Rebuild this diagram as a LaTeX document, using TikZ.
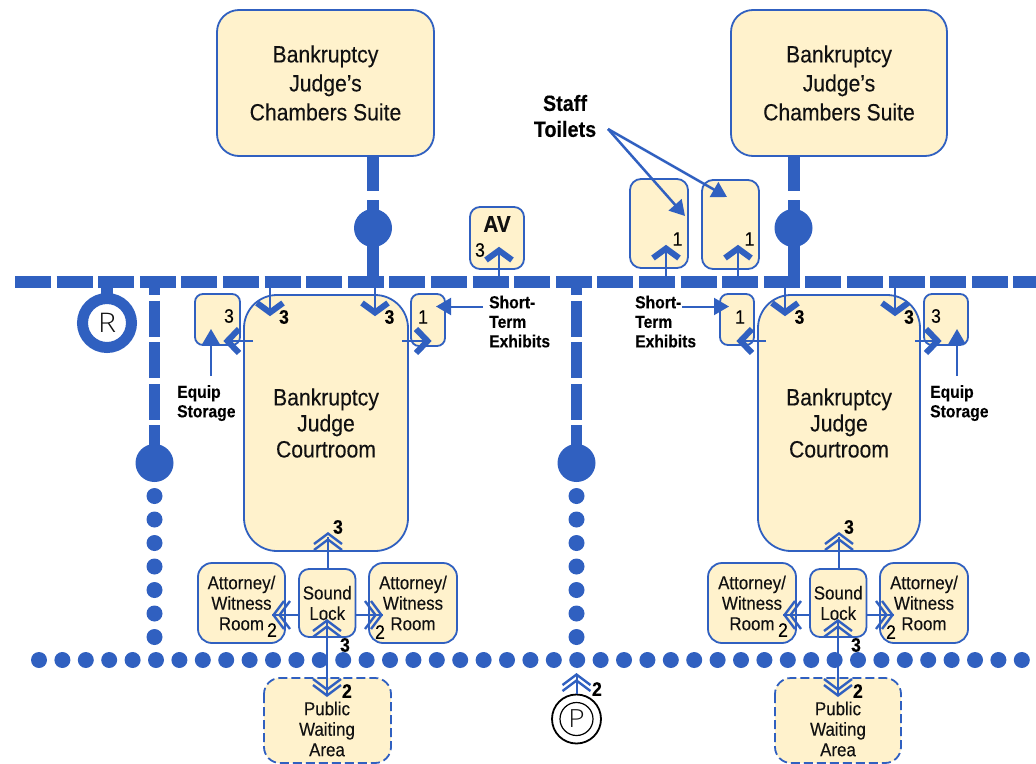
\documentclass[tikz,border=0pt]{standalone}
\usepackage{fontspec}
\setmainfont[FakeStretch=0.9,FakeBold=0.2]{Liberation Sans}
\newfontfamily\thinfont[FakeStretch=1.12]{Open Sans Light}
\usetikzlibrary{arrows.meta}
\definecolor{bl}{HTML}{3060C0}
\definecolor{cream}{HTML}{FFF2CC}
\definecolor{ink}{HTML}{111111}
\tikzset{
  x=1pt,y=-1pt,
  roomb/.style={draw=bl,fill=cream,line width=1.8pt,inner sep=0pt,align=center,text=ink},
  big/.style={font=\fontsize{23.5}{29}\selectfont},
  crt/.style={font=\fontsize{23.5}{26}\selectfont},
  mid/.style={font=\fontsize{18.8}{20.5}\selectfont},
  numb/.style={font=\bfseries\fontsize{19.5}{19.5}\selectfont,text=black,inner sep=0pt},
  numr/.style={font=\fontsize{19.5}{19.5}\selectfont,text=black,inner sep=0pt},
  note/.style={font=\bfseries\fontsize{17.4}{19.5}\selectfont,text=black,align=left,inner sep=0pt,anchor=north west},
  stemline/.style={draw=bl,line width=2pt},
  ptr/.style={draw=bl,line width=2.5pt,-{Triangle[length=15pt,width=17pt]}},
  chevthick/.style={draw=bl,line width=6pt,miter limit=10},
  chevthin/.style={draw=bl,line width=2.4pt,miter limit=10},
  corridor/.style={draw=bl,line width=12pt},
}
% box: name x1 y1 x2 y2 radius style text
\newcommand{\roombox}[8]{%
  \pgfmathsetmacro{\cxx}{(#2+#4)/2}\pgfmathsetmacro{\cyy}{(#3+#5)/2}%
  \pgfmathsetmacro{\wdd}{#4-#2}\pgfmathsetmacro{\htt}{#5-#3}%
  \node[roomb,rounded corners=#6,minimum width=\wdd pt,minimum height=\htt pt,#7] (#1) at (\cxx,\cyy) {#8};}
% stem: name x1 y1 x2 y2
\newcommand{\stemto}[5]{%
  \coordinate (#1a) at (#2,#3);\coordinate (#1b) at (#4,#5);
  \draw[stemline] (#1a) -- (#1b);}
% single chevron: apex x y rotation (0 = pointing up)
\newcommand{\chevone}[3]{%
  \begin{scope}[shift={(#1,#2)},rotate=#3]
  \draw[chevthick] (-13,13) -- (0,3.5) -- (13,13);
  \end{scope}}
\newcommand{\chevside}[3]{%
  \begin{scope}[shift={(#1,#2)},rotate=#3]
  \draw[chevthick] (-12,15) -- (0,3.5) -- (12,15);
  \end{scope}}
\newcommand{\chevtwo}[3]{%
  \begin{scope}[shift={(#1,#2)},rotate=#3]
  \draw[chevthin] (-14,12) -- (0,1.5) -- (14,12);
  \draw[chevthin] (-14,18) -- (0,7.5) -- (14,18);
  \end{scope}}
\begin{document}
\begin{tikzpicture}
\useasboundingbox (0,0) rectangle (1036,763);
\clip (0,0) rectangle (1036,763);
% corridors
\coordinate (mainL) at (15,282);\coordinate (mainR) at (1036,282);
\draw[corridor,dash pattern=on 36pt off 5.6pt] (mainL) -- (mainR);
\foreach \n/\xx in {a/154.5,b/576.5}{
  \coordinate (v\n t) at (\xx,276);\coordinate (v\n b) at (\xx,459);
  \draw[corridor,line width=11pt,dash pattern=on 36pt off 5.6pt,dash phase=17pt] (v\n t) -- (v\n b);
  \node[circle,fill=bl,minimum size=38pt,inner sep=0pt] (hub\n) at (\xx,463) {};
  \foreach \yy in {496,519.5,543,566.5,590,613.5,637}{
    \node[circle,fill=bl,minimum size=16pt,inner sep=0pt] at (\xx,\yy) {};}
}
\foreach \k in {0,...,42}{
  \node[circle,fill=bl,minimum size=16pt,inner sep=0pt] at ({39+23.4*\k},660) {};}
% chambers
\roombox{chA}{217}{10}{434}{156}{22pt}{big}{Bankruptcy\\Judge's\\Chambers Suite}
\roombox{chB}{731}{10}{947}{156}{22pt}{big}{Bankruptcy\\Judge's\\Chambers Suite}
\foreach \n/\xx in {A/373,B/793.5}{
  \coordinate (s\n) at (\xx,156);\coordinate (m\n) at (\xx,191);
  \coordinate (u\n) at (\xx,200);\coordinate (d\n) at (\xx,288);
  \draw[corridor] (s\n) -- (m\n);
  \draw[corridor] (u\n) -- (d\n);
  \node[circle,fill=bl,minimum size=38pt,inner sep=0pt] (hub\n) at (\xx,228) {};
}
% courtrooms
\roombox{crA}{244}{295}{408}{551}{33pt}{crt}{Bankruptcy\\Judge\\Courtroom}
\roombox{crB}{758}{295}{920}{551}{33pt}{crt}{Bankruptcy\\Judge\\Courtroom}
% R
\coordinate (rt) at (107,288);\coordinate (rb) at (107,300);
\draw[corridor] (rt) -- (rb);
\node[circle,draw=bl,fill=white,line width=11pt,minimum size=49pt,inner sep=0pt,font=\thinfont\fontsize{27}{27}\selectfont,text=ink] (R) at (107,323) {R};
% P
\node[circle,draw=black,fill=white,line width=1.8pt,minimum size=49pt,inner sep=0pt] (Pouter) at (576.5,719) {};
\node[circle,draw=black,line width=1.2pt,minimum size=33pt,inner sep=0pt,font=\thinfont\fontsize{25}{25}\selectfont,text=ink] (P) at (576.5,719) {P};
\coordinate (ps) at (576.5,676);
\draw[stemline] (Pouter.north) -- (ps);
\chevtwo{576.5}{673}{0}
\node[numb] (pn) at (597,689) {2};
% small rooms
\roombox{eqA}{195}{294}{240}{345}{8pt}{}{}
\roombox{stA}{411}{294}{445}{346}{8pt}{}{}
\roombox{stB}{720}{294}{754}{345}{8pt}{}{}
\roombox{eqB}{924}{294}{968}{345}{8pt}{}{}
\roombox{av}{470}{207}{524}{269}{10pt}{}{}
\roombox{toA}{630}{179}{688}{268}{11pt}{}{}
\roombox{toB}{702}{180}{759}{269}{11pt}{}{}
\node[font=\fontsize{23}{23}\selectfont\bfseries,text=ink,inner sep=0pt] (avt) at (497,224) {AV};
% stems + chevrons top
\foreach \n/\xx/\lx in {p/270/284,q/375/389.5,r/785/799.5,s/895/909}{
  \stemto{\n}{\xx}{285}{\xx}{312}
  \chevone{\xx}{316}{180}
  \node[numb] (n\n) at (\lx,317) {3};
}
\stemto{av}{499}{282}{499}{250}\chevone{499}{247}{0}
\stemto{ta}{666}{282}{666}{248}\chevone{666}{245}{0}
\stemto{tb}{738}{282}{738}{248}\chevone{738}{245}{0}
% side chevrons
\stemto{ea}{253}{341}{228}{341}\chevside{224}{341}{90}
\stemto{eb}{402}{341}{427}{341}\chevside{431}{341}{-90}
\stemto{ec}{766}{341}{741}{341}\chevside{737}{341}{90}
\stemto{ed}{915}{341}{937}{341}\chevside{941}{341}{-90}
% numbers in rooms
\node[numr] (n1) at (229,316) {3};
\node[numr] (n2) at (423,317) {1};
\node[numr] (n3) at (480,250) {3};
\node[numr] (n4) at (677.5,239) {1};
\node[numr] (n5) at (749.5,239) {1};
\node[numr] (n6) at (740,317) {1};
\node[numr] (n7) at (936,316) {3};
% annotations
\node[note] (eA) at (177,385) {Equip\\Storage};
\node[note] (eB) at (930,385) {Equip\\Storage};
\node[note] (xA) at (489,295.5) {Short-\\Term\\Exhibits};
\node[note] (xB) at (635,295.5) {Short-\\Term\\Exhibits};
\node[font=\bfseries\fontsize{22}{26}\selectfont,text=black,align=center,inner sep=0pt] (staff) at (565,116) {Staff\\Toilets};
\coordinate (eA1) at (211,376);\coordinate (eA2) at (211,329);
\draw[ptr,line width=2pt] (eA1) -- (eA2);
\coordinate (eB1) at (957,376);\coordinate (eB2) at (957,329);
\draw[ptr,line width=2pt] (eB1) -- (eB2);
\coordinate (xA1) at (483,306.5);\coordinate (xA2) at (436,306.5);
\draw[ptr,line width=2pt] (xA1) -- (xA2);
\coordinate (xB1) at (682,306.5);\coordinate (xB2) at (729,306.5);
\draw[ptr,line width=2pt] (xB1) -- (xB2);
\coordinate (st0) at (608,129);\coordinate (st1) at (685,216);\coordinate (st2) at (727,197);
\draw[ptr] (st0) -- (st1);
\draw[ptr] (st0) -- (st2);
% lower groups
\foreach \n/\c/\la/\lb/\lc/\ld/\pa/\pb/\pc in {A/327/198/285/369/457/264/391/338,B/838/708/796/880/968/775/901/849}{
  \pgfmathsetmacro{\sl}{\c-28}\pgfmathsetmacro{\sr}{\c+28.5}
  \roombox{at1\n}{\la}{563}{\lb}{643}{14pt}{mid}{Attorney/\\Witness\\Room}
  \roombox{at2\n}{\lc}{563}{\ld}{643}{14pt}{mid}{Attorney/\\Witness\\Room}
  \roombox{snd\n}{\sl}{569}{\sr}{637}{10pt}{mid}{Sound\\Lock}
  \draw[roomb,fill=cream,dash pattern=on 9pt off 4pt,rounded corners=16pt] (\pa,678) rectangle (\pb,763);
  \node[mid,align=center,text=ink,inner sep=0pt] (pw\n) at (\c,729) {Public\\Waiting\\Area};
  % up to courtroom
  \pgfmathsetmacro{\ux}{\c+1}
  \stemto{up\n}{\ux}{569}{\ux}{537}\chevtwo{\ux}{532}{0}
  \node[numb] (un\n) at (\pc,527) {3};
  % left / right
  \pgfmathsetmacro{\lt}{\lb-13}\pgfmathsetmacro{\rt}{\lc+14}
  \stemto{le\n}{\sl}{615}{\lt}{615}\chevtwo{\lt}{615}{90}
  \stemto{ri\n}{\sr}{615}{\rt}{615}\chevtwo{\rt}{615}{-90}
  \pgfmathsetmacro{\nl}{\lb-13}\pgfmathsetmacro{\nr}{\lc+11}
  \node[numr] (ln\n) at (\nl,630) {2};
  \node[numr] (rn\n) at (\nr,632) {2};
  % vertical
  \stemto{dn\n}{\c}{622}{\c}{694}
  \chevtwo{\c}{619}{0}
  \chevtwo{\c}{697}{180}
  \pgfmathsetmacro{\tx}{\c+18}\pgfmathsetmacro{\ty}{\c+20}
  \node[numb] (vn\n) at (\tx,645) {3};
  \node[numb] (wn\n) at (\ty,691) {2};
}
\end{tikzpicture}
\end{document}
